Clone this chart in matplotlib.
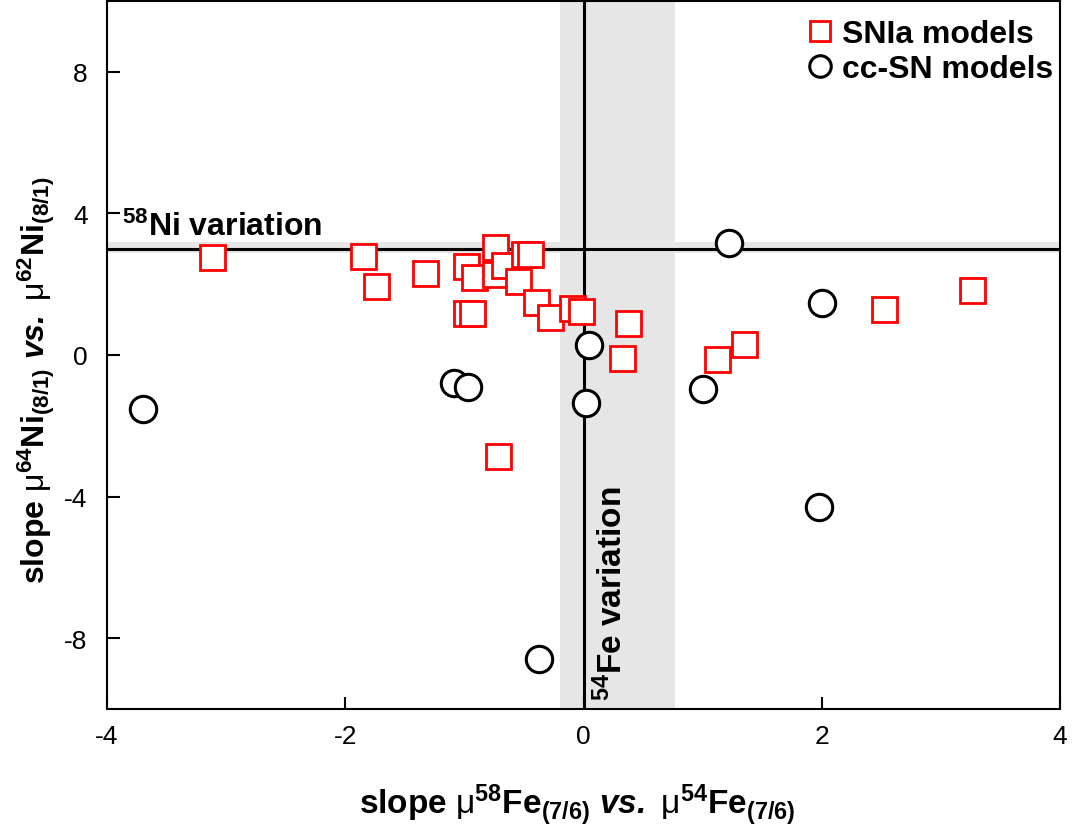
import numpy as np
import matplotlib
matplotlib.use('Agg')
import matplotlib.pyplot as plt
from matplotlib.lines import Line2D

plt.rcParams['font.family'] = ['Liberation Sans', 'DejaVu Sans']
plt.rcParams['mathtext.fontset'] = 'custom'
plt.rcParams['mathtext.rm'] = 'Liberation Sans'
plt.rcParams['mathtext.bf'] = 'Liberation Sans:bold'
plt.rcParams['mathtext.it'] = 'Liberation Sans:italic'
plt.rcParams['mathtext.bfit'] = 'Liberation Sans:bold:italic'
plt.rcParams['axes.unicode_minus'] = False

# SNIa model slopes (x: 58Fe vs 54Fe, y: 64Ni vs 62Ni)
snia_x = [-3.12, -1.85, -1.74, -1.33, -0.99, -0.92, -0.74, -0.74, -0.67, -0.55,
          -0.50, -0.45, -0.40, -0.28, -0.10, -0.02, -0.99, -0.94, 0.37, 0.32,
          -0.72, 1.12, 1.35, 2.52, 3.26]
snia_y = [2.78, 2.80, 1.94, 2.33, 2.51, 2.21, 3.05, 2.30, 2.53, 2.08,
          2.85, 2.85, 1.49, 1.08, 1.33, 1.25, 1.18, 1.18, 0.91, -0.08,
          -2.85, -0.10, 0.32, 1.29, 1.84]

# core-collapse SN model slopes
ccsn_x = [-3.70, -1.09, -0.97, 0.05, 0.02, -0.37, 1.00, 1.22, 2.00, 1.98]
ccsn_y = [-1.52, -0.80, -0.91, 0.28, -1.35, -8.58, -0.97, 3.17, 1.48, -4.29]

# variation bands
ni_line, ni_band = 3.0, (2.88, 3.18)
fe_line, fe_band = 0.0, (-0.2, 0.77)

fig = plt.figure(figsize=(10.74, 8.28), dpi=100)
ax = fig.add_axes([0.0996, 0.1425, 0.8874, 0.8551])

ax.axhspan(ni_band[0], ni_band[1], color='#e6e6e6', lw=0, zorder=0)
ax.axvspan(fe_band[0], fe_band[1], color='#e6e6e6', lw=0, zorder=0)
ax.axhline(ni_line, color='black', lw=2.2, zorder=1)
ax.axvline(fe_line, color='black', lw=2.2, zorder=1)

ax.plot(snia_x, snia_y, 's', ms=18, mfc='white', mec='red', mew=2.0, zorder=3)
ax.plot(ccsn_x, ccsn_y, 'o', ms=19, mfc='white', mec='black', mew=2.2, zorder=4)

ax.text(-3.875, 3.38, r'$^{\mathbf{58}}$Ni variation', fontsize=23, fontweight='bold',
        ha='left', va='baseline')
ax.text(0.24, -9.75, r'$^{\mathbf{54}}$Fe variation', fontsize=24, fontweight='bold',
        rotation=90, ha='center', va='bottom')

ax.set_xlim(-4, 4)
ax.set_ylim(-10, 10)
ax.set_xticks([-4, -2, 0, 2, 4])
ax.set_yticks([-8, -4, 0, 4, 8])
ax.tick_params(direction='in', length=9, width=1.5, labelsize=19)
ax.tick_params(axis='x', pad=11)
ax.tick_params(axis='y', pad=14)
for s in ax.spines.values():
    s.set_linewidth(1.5)

ax.set_xlabel(r'slope $\mathrm{\mu}^{\mathbf{58}}\mathbf{Fe}_{\mathbf{(7/6)}}$ '
              r'$\mathbfit{vs.}$ $\mathrm{\mu}^{\mathbf{54}}\mathbf{Fe}_{\mathbf{(7/6)}}$',
              fontsize=24, fontweight='bold')
ax.set_ylabel(r'slope $\mathrm{\mu}^{\mathbf{64}}\mathbf{Ni}_{\mathbf{(8/1)}}$ '
              r'$\mathbfit{vs.}$ $\mathrm{\mu}^{\mathbf{62}}\mathbf{Ni}_{\mathbf{(8/1)}}$',
              fontsize=23, fontweight='bold')
ax.xaxis.set_label_coords(0.493, -0.103)
ax.yaxis.set_label_coords(-0.052, 0.466)

handles = [
    Line2D([], [], ls='none', marker='s', ms=15, mfc='white', mec='red', mew=2.0),
    Line2D([], [], ls='none', marker='o', ms=15.5, mfc='white', mec='black', mew=2.2),
]
leg = ax.legend(handles, ['SNIa models', 'cc-SN models'], loc='upper right',
                bbox_to_anchor=(1.008, 0.995),
                frameon=False, handlelength=0.8, handletextpad=0.3, labelspacing=0.15,
                borderaxespad=0.1, borderpad=0.35, prop={'size': 23, 'weight': 'bold'})

fig.savefig('out.png', dpi=100)
